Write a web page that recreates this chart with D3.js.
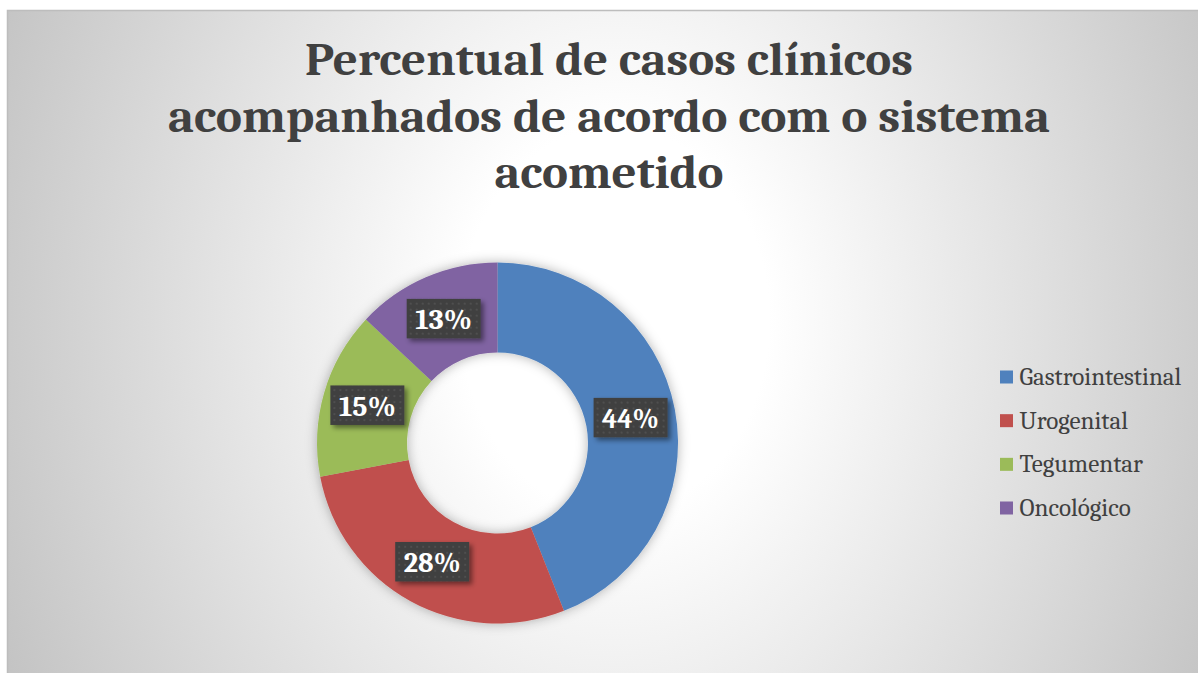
<!DOCTYPE html>
<html>
<head>
<meta charset="utf-8">
<script src="https://cdn.jsdelivr.net/npm/d3@7"></script>
<style>
  html, body { margin: 0; padding: 0; background: #ffffff; }
  svg { display: block; }
</style>
</head>
<body>
<svg id="chart" width="1198" height="673"></svg>
<script>
// ---- data ----
const titleLines = ["Percentual de casos clínicos", "acompanhados de acordo com o sistema", "acometido"];
const categories = ["Gastrointestinal", "Urogenital", "Tegumentar", "Oncológico"];
const values = [44, 28, 15, 13];
const colors = ["#4F81BD", "#C0504D", "#9BBB59", "#8064A2"];

const W = 1198, H = 673;
const svg = d3.select("#chart");
const defs = svg.append("defs");

// background gradient
const bg = defs.append("radialGradient")
  .attr("id", "bgGrad")
  .attr("gradientUnits", "userSpaceOnUse")
  .attr("cx", 615).attr("cy", 320).attr("r", 700)
  .attr("gradientTransform", "translate(615,320) scale(1,1.25) translate(-615,-320)");
bg.append("stop").attr("offset", "0%").attr("stop-color", "#ffffff");
bg.append("stop").attr("offset", "22%").attr("stop-color", "#ffffff");
bg.append("stop").attr("offset", "100%").attr("stop-color", "#c0c0c0");

// donut shadow
const fs = defs.append("filter").attr("id", "donutShadow")
  .attr("x", "-20%").attr("y", "-20%").attr("width", "140%").attr("height", "140%");
fs.append("feDropShadow").attr("dx", 0).attr("dy", 0).attr("stdDeviation", 6)
  .attr("flood-color", "#000").attr("flood-opacity", 0.3);

// label shadow
const ls = defs.append("filter").attr("id", "labelShadow")
  .attr("x", "-30%").attr("y", "-30%").attr("width", "160%").attr("height", "170%");
ls.append("feDropShadow").attr("dx", 3).attr("dy", 3).attr("stdDeviation", 2.5)
  .attr("flood-color", "#000").attr("flood-opacity", 0.45);

// dotted pattern for label boxes
const pat = defs.append("pattern").attr("id", "dots")
  .attr("patternUnits", "userSpaceOnUse").attr("width", 6).attr("height", 6);
pat.append("rect").attr("width", 6).attr("height", 6).attr("fill", "#3f3f3f");
pat.append("circle").attr("cx", 3).attr("cy", 3).attr("r", 1).attr("fill", "#555555");

// chart area
svg.append("rect").attr("x", 0).attr("y", 0).attr("width", W).attr("height", H).attr("fill", "#ffffff");
svg.append("rect")
  .attr("x", 7.5).attr("y", 10.5).attr("width", W + 20).attr("height", H + 20)
  .attr("fill", "url(#bgGrad)").attr("stroke", "#bdbdbd").attr("stroke-width", 1.5);

// title
const titleFont = "Cambria, 'Liberation Serif', 'DejaVu Serif', serif";
const targetWidths = [608, 882, 229];
const titleBaselines = [75, 132, 188];
const titleG = svg.append("g");
titleLines.forEach((t, i) => {
  const txt = titleG.append("text")
    .attr("x", 609).attr("y", titleBaselines[i])
    .attr("text-anchor", "middle")
    .attr("font-family", titleFont)
    .attr("font-weight", "bold")
    .attr("font-size", 46)
    .attr("fill", "#404040")
    .text(t);
  const w = txt.node().getComputedTextLength();
  const r = targetWidths[i] / w;
  if (r > 0.85 && r < 1.2) {
    txt.attr("textLength", targetWidths[i]).attr("lengthAdjust", "spacingAndGlyphs");
  }
});

// donut
const cx = 497.5, cy = 443, rOuter = 180.5, rInner = 90.5;
const pie = d3.pie().sort(null).value(d => d);
const arcs = pie(values);
const arc = d3.arc().innerRadius(rInner).outerRadius(rOuter);
const g = svg.append("g").attr("transform", `translate(${cx},${cy})`);
g.append("g").attr("filter", "url(#donutShadow)")
  .selectAll("path").data(arcs).enter().append("path")
  .attr("d", arc)
  .attr("fill", (d, i) => colors[i]);

// data labels
const labelFont = "Cambria, 'Liberation Serif', 'DejaVu Serif', serif";
const lblG = g.append("g");
arcs.forEach((d, i) => {
  const [x, y] = arc.centroid(d);
  const grp = lblG.append("g").attr("transform", `translate(${x},${y})`);
  const rect = grp.append("rect").attr("fill", "url(#dots)").attr("filter", "url(#labelShadow)");
  const txt = grp.append("text")
    .attr("x", 0).attr("y", 10.5)
    .attr("text-anchor", "middle")
    .attr("font-family", labelFont)
    .attr("font-weight", "bold")
    .attr("font-size", 29)
    .attr("fill", "#ffffff")
    .text(values[i] + "%");
  const tw = txt.node().getComputedTextLength();
  const target = 57;
  if (tw / target > 0.8 && tw / target < 1.25) {
    txt.attr("textLength", target).attr("lengthAdjust", "spacingAndGlyphs");
  }
  const bw = 74, bh = 39.5;
  rect.attr("x", -bw / 2).attr("y", -bh / 2).attr("width", bw).attr("height", bh);
});

// legend
const legendY = d3.scalePoint().domain(categories).range([377, 508]);
const leg = svg.append("g");
// size legend font so the longest entry matches the reference width
const probe = leg.append("text").attr("font-family", labelFont).attr("font-size", 24).text(categories[0]);
const pw = probe.node().getComputedTextLength();
probe.remove();
let legSize = 24 * 162 / pw;
legSize = Math.max(22, Math.min(27, legSize));
categories.forEach((c, i) => {
  const y = legendY(c);
  leg.append("rect")
    .attr("x", 1000).attr("y", y - 6.5).attr("width", 13).attr("height", 13)
    .attr("fill", colors[i]);
  leg.append("text")
    .attr("x", 1019.5).attr("y", y + 8)
    .attr("font-family", labelFont)
    .attr("font-size", legSize)
    .attr("fill", "#404040")
    .text(c);
});
</script>
</body>
</html>
